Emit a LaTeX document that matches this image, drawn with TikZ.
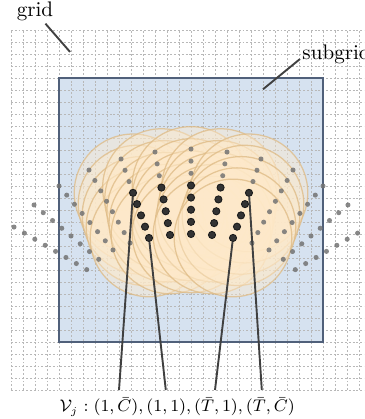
\documentclass[tikz,border=0pt]{standalone}
\begin{document}
\begin{tikzpicture}[x=0.2cm, y=0.2cm]
  \tikzset{
    gridline/.style={draw=black!28, line width=0.35pt, dash pattern=on 0.9pt off 0.9pt},
    subbox/.style={fill={rgb,255:red,214;green,226;blue,240}},
    subedge/.style={draw={rgb,255:red,80;green,96;blue,122}, line width=1pt},
    disc/.style={fill={rgb,255:red,255;green,234;blue,202}, fill opacity=0.42,
      draw={rgb,255:red,222;green,186;blue,132}, draw opacity=0.75, line width=0.6pt},
    gdot/.style={circle, fill=black!55, fill opacity=0.85, inner sep=0pt, minimum size=2.4pt},
    bdot/.style={circle, fill=black!80, draw=black!90, line width=0.4pt, inner sep=0pt, minimum size=3.4pt},
    lbl/.style={inner sep=1pt},
    conn/.style={draw=black!75, line width=0.9pt}
  }
  \clip (-0.917,-2.417) rectangle (29.417,32.5);
  % grid and subgrid
  \fill[subbox] (4,4) rectangle (26,26);
  \foreach \g in {0,...,30} {
    \draw[gridline] (\g,0) -- (\g,30);
    \draw[gridline] (0,\g) -- (30,\g);
  }
  \draw[subedge] (4,4) rectangle (26,26);
  % dot positions: columns from top to bottom end, mirrored about x=15
  \foreach \tx/\ty/\bx/\by [count=\c] in {0.25/13.58/6.31/10.03, 1.92/15.42/7.31/10.89,
      4.0/17.0/8.5/11.67, 6.5/18.33/9.92/12.25, 9.17/19.25/11.5/12.67,
      12.0/19.83/13.25/12.92, 15.0/20.08/15.0/13.0} {
    \pgfmathtruncatemacro\m{14-\c}
    \foreach \i in {0,...,7} {
      \coordinate (p-\c-\i) at ({\tx+(\bx-\tx)*\i/7}, {\ty+(\by-\ty)*\i/7});
      \coordinate (p-\m-\i) at ({30-\tx-(\bx-\tx)*\i/7}, {\ty+(\by-\ty)*\i/7});
    }
  }
  % neighbourhoods of V_j
  \foreach \c in {5,...,9}
    \foreach \i in {3,...,7}
      \draw[disc] (p-\c-\i) circle (4.9);
  % dots
  \foreach \c in {1,...,13}
    \foreach \i in {0,...,7} {
      \pgfmathtruncatemacro\isb{(\c>4 && \c<10 && \i>2) ? 1 : 0}
      \ifnum\isb=1
        \node[bdot] (b-\c-\i) at (p-\c-\i) {};
      \else
        \node[gdot] (g-\c-\i) at (p-\c-\i) {};
      \fi
    }
  % labels
  \node[lbl, anchor=base] (lgrid) at (2.0,31.1) {grid};
  \coordinate (cg) at (4.92,28.17);
  \draw[conn] (lgrid) -- (cg);
  \node[lbl, anchor=base west] (lsub) at (24.08,27.58) {subgrid};
  \coordinate (cs) at (21.0,25.06);
  \draw[conn] (lsub.base west) -- (cs);
  \node[lbl, anchor=base, font=\fontsize{7.8}{9}\selectfont] (vlab) at (13.85,-1.83)
    {$\mathcal{V}_j : (1,\bar{C}), (1,1), (\bar{T},1), (\bar{T},\bar{C})$};
  \coordinate (e1) at (9.0,0);
  \coordinate (e2) at (12.9,0);
  \coordinate (e3) at (17.0,0);
  \coordinate (e4) at (20.9,0);
  \draw[conn] (e1) -- (b-5-3);
  \draw[conn] (e2) -- (b-5-7);
  \draw[conn] (e3) -- (b-9-7);
  \draw[conn] (e4) -- (b-9-3);
\end{tikzpicture}
\end{document}
